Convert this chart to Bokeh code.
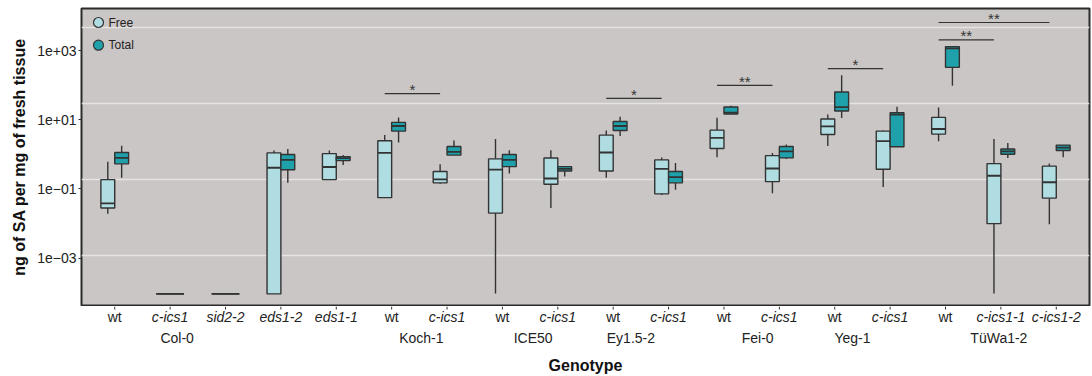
from bokeh.plotting import figure
from bokeh.layouts import column
from bokeh.models import (Range1d, FixedTicker, CustomJSTickFormatter, ColumnDataSource)
from bokeh.core.properties import value
from bokeh.embed import file_html
from bokeh.resources import INLINE

# ---------------- data ----------------
categories = ["wt", "c-ics1", "sid2-2", "eds1-2", "eds1-1",
              "wt", "c-ics1", "wt", "c-ics1", "wt", "c-ics1",
              "wt", "c-ics1", "wt", "c-ics1", "wt", "c-ics1-1", "c-ics1-2"]
groups = ["Col-0", "Koch-1", "ICE50", "Ey1.5-2", "Fei-0", "Yeg-1", "TüWa1-2"]
group_first = [1, 6, 8, 10, 12, 14, 16]
group_last = [3, 7, 9, 11, 13, 15, 18]
series = ["Free", "Total"]

LOD = 9.2e-5
free_low = [0.019, LOD, LOD, LOD, 0.186, 0.056, 0.14, 9.5e-5, 0.028, 0.21, 0.067, 0.83, 0.075, 1.73, 0.114, 2.41, 9.5e-5, 0.0095]
free_q1 = [0.028, LOD, LOD, LOD, 0.186, 0.056, 0.15, 0.020, 0.137, 0.33, 0.072, 1.47, 0.163, 3.75, 0.37, 3.85, 0.0099, 0.054]
free_med = [0.038, LOD, LOD, 0.41, 0.43, 1.10, 0.19, 0.36, 0.20, 1.13, 0.38, 3.0, 0.39, 6.4, 2.41, 5.4, 0.24, 0.156]
free_q3 = [0.186, LOD, LOD, 1.10, 1.05, 2.46, 0.32, 0.74, 0.78, 3.6, 0.69, 5.0, 0.92, 10.5, 4.7, 11.7, 0.54, 0.455]
free_high = [0.61, LOD, LOD, 1.29, 1.29, 3.6, 0.52, 2.76, 1.32, 4.9, 0.81, 11.4, 1.10, 14.2, 4.9, 22.7, 2.76, 0.54]

total_low = [0.21, None, None, 0.15, 0.49, 2.2, 0.95, 0.28, 0.23, 3.4, 0.095, 14.6, 0.73, 11.2, 1.65, 97, 0.78, 0.83]
total_q1 = [0.53, None, None, 0.36, 0.66, 4.7, 0.95, 0.44, 0.33, 4.9, 0.15, 14.6, 0.79, 17.9, 1.65, 328, 1.01, 1.29]
total_med = [0.79, None, None, 0.69, 0.78, 6.6, 1.18, 0.69, 0.38, 6.6, 0.22, 16.0, 1.21, 23.3, 14.0, 1166, 1.21, 1.57]
total_q3 = [1.13, None, None, 0.99, 0.86, 8.4, 1.68, 0.99, 0.44, 8.9, 0.32, 23.3, 1.68, 63.5, 16.0, 1306, 1.42, 1.85]
total_high = [1.76, None, None, 1.42, 0.95, 11.7, 2.5, 1.32, 0.44, 12.2, 0.56, 25.5, 1.92, 192, 23.8, 1306, 2.11, 1.85]

sig_from = [6, 10, 12, 14, 16, 16]
sig_to = [7, 11, 13, 15, 17, 18]
sig_y = [56.8, 41.4, 98.6, 300, 2043, 6490]
sig_text = ["*", "*", "**", "*", "**", "**"]

y_ticks = [1e-3, 1e-1, 1e1, 1e3]
grid_values = [0.00122, 0.191, 29.6, 4550]

# ---------------- style / layout ----------------
FREE = "#AFDDE2"
TOTAL = "#1FA1AB"
EDGE = "#333333"
PANEL = "#CAC6C5"
FONT = "Liberation Sans"
group_nudge_px = [7, 2, 3, -10, 6, -10, -2]

X0, X1 = 0.4, 18.6
Y0, Y1 = -4.371, 4.217   # log10 limits of the panel
FRAME_W, FRAME_H = 1008.0, 297.0

def frame_x(px):      # pixels from the panel's left edge -> x value
    return X0 + px * (X1 - X0) / FRAME_W

def frame_y(px):      # pixels from the panel's top edge -> y value (log axis)
    return 10 ** (Y1 - px * (Y1 - Y0) / FRAME_H)

p = figure(width=1092, height=306, output_backend="svg", toolbar_location=None,
           y_axis_type="log", x_axis_location=None,
           x_range=Range1d(X0, X1), y_range=Range1d(10 ** Y0, 10 ** Y1),
           min_border_left=81, min_border_right=3, min_border_top=8, min_border_bottom=1)
p.background_fill_color = PANEL
p.border_fill_color = "white"
p.outline_line_color = "#2b2b2b"
p.outline_line_width = 2

p.xgrid.visible = False
p.ygrid.ticker = FixedTicker(ticks=grid_values)
p.ygrid.grid_line_color = "#E6E4E3"
p.ygrid.grid_line_width = 1.5
p.ygrid.minor_grid_line_color = None

p.yaxis.ticker = FixedTicker(ticks=y_ticks, minor_ticks=[])
p.yaxis.formatter = CustomJSTickFormatter(code="""
const e = Math.round(Math.log10(tick));
const s = e < 0 ? '\u2212' : '+';
const a = Math.abs(e);
return '1e' + s + (a < 10 ? '0' : '') + a;
""")
p.yaxis.axis_label = "ng of SA per mg of fresh tissue"
p.yaxis.axis_label_text_font = FONT
p.yaxis.axis_label_text_font_style = "bold"
p.yaxis.axis_label_text_font_size = "16px"
p.yaxis.axis_label_text_color = "#111111"
p.yaxis.axis_label_standoff = 6
p.yaxis.major_label_text_font = FONT
p.yaxis.major_label_text_font_size = "14px"
p.yaxis.major_label_text_color = "#222222"
p.yaxis.major_label_standoff = 2
p.yaxis.axis_line_color = None
p.yaxis.major_tick_in = 0
p.yaxis.major_tick_out = 3
p.yaxis.major_tick_line_color = "#333333"
p.yaxis.minor_tick_line_color = None

# ---------------- boxes ----------------
def build(low, q1, med, q3, high, offset_if_pair, other):
    xs, ws, d = [], [], dict(low=[], q1=[], med=[], q3=[], high=[])
    for i in range(len(categories)):
        if low[i] is None:
            continue
        paired = other[i] is not None
        x = i + 1 + (offset_if_pair if paired else 0.0)
        w = 0.25 if paired else 0.5
        xs.append(x)
        ws.append(w)
        d["low"].append(low[i]); d["q1"].append(q1[i]); d["med"].append(med[i])
        d["q3"].append(q3[i]); d["high"].append(high[i])
    d["x"] = xs
    d["w"] = ws
    d["x0"] = [x - w / 2 for x, w in zip(xs, ws)]
    d["x1"] = [x + w / 2 for x, w in zip(xs, ws)]
    return ColumnDataSource(d)

src_free = build(free_low, free_q1, free_med, free_q3, free_high, -0.125, total_low)
src_total = build(total_low, total_q1, total_med, total_q3, total_high, 0.125, free_low)

for src, col in ((src_free, FREE), (src_total, TOTAL)):
    p.segment(x0="x", y0="q3", x1="x", y1="high", source=src, line_color=EDGE, line_width=1.4)
    p.segment(x0="x", y0="q1", x1="x", y1="low", source=src, line_color=EDGE, line_width=1.4)
    p.vbar(x="x", width="w", bottom="q1", top="q3", source=src, fill_color=col,
           line_color=EDGE, line_width=1.4)
    p.segment(x0="x0", y0="med", x1="x1", y1="med", source=src, line_color=EDGE, line_width=1.8)

# ---------------- significance ----------------
sig_src = ColumnDataSource(dict(
    x0=[a - 0.125 for a in sig_from], x1=[b - 0.125 for b in sig_to],
    y=sig_y, t=sig_text,
    xm=[(a + b) / 2 - 0.125 for a, b in zip(sig_from, sig_to)]))
p.segment(x0="x0", y0="y", x1="x1", y1="y", source=sig_src, line_color="#333333", line_width=1.2)
p.text(x="xm", y="y", text="t", source=sig_src, text_align="center", text_baseline="middle",
       y_offset=-4, text_font=value(FONT), text_font_size="15px", text_color="#333333")

# ---------------- legend (drawn inside the panel, top-left) ----------------
leg_rows = [14, 36.7]   # row centres, px below the panel top
leg_src = ColumnDataSource(dict(
    x=[frame_x(17)] * len(series), tx=[frame_x(27)] * len(series),
    y=[frame_y(r) for r in leg_rows], t=series, c=[FREE, TOTAL]))
p.scatter(x="x", y="y", source=leg_src, marker="circle", size=10, fill_color="c",
          line_color=EDGE, line_width=1.2)
p.text(x="tx", y="y", text="t", source=leg_src, text_align="left", text_baseline="middle",
       text_font=value(FONT), text_font_size="12px", text_color="#222222")

# ---------------- x-axis strip (ticks + labels) ----------------
q = figure(width=1092, height=70, output_backend="svg", toolbar_location=None,
           x_axis_location=None, y_axis_location=None,
           x_range=p.x_range, y_range=Range1d(70, 0),
           min_border_left=81, min_border_right=3, min_border_top=0, min_border_bottom=0)
q.outline_line_color = None
q.grid.visible = False
q.background_fill_color = "white"
q.border_fill_color = "white"

ticks = list(range(1, len(categories) + 1))
q.segment(x0=ticks, y0=[0] * len(ticks), x1=ticks, y1=[3] * len(ticks),
          line_color="#333333", line_width=1)

cat_src = ColumnDataSource(dict(
    x=ticks, y=[10.2] * len(ticks), t=categories,
    style=["normal" if c == "wt" else "italic" for c in categories]))
q.text(x="x", y="y", text="t", source=cat_src, text_align="center", text_baseline="middle",
       text_font=value(FONT), text_font_size="14px", text_color="#222222",
       text_font_style="style")

grp_src = ColumnDataSource(dict(
    x=[(a + b) / 2 for a, b in zip(group_first, group_last)],
    y=[31.7] * len(groups), t=groups, dx=group_nudge_px))
q.text(x="x", y="y", text="t", source=grp_src, x_offset="dx", text_align="center",
       text_baseline="middle", text_font=value(FONT), text_font_size="14px",
       text_color="#222222")

q.text(x=[9.5], y=[58.5], text=["Genotype"], text_align="center", text_baseline="middle",
       text_font=value(FONT), text_font_size="16px", text_font_style="bold",
       text_color="#111111")

layout = column(p, q, spacing=0)
open("out.html", "w").write(file_html(layout, INLINE))
